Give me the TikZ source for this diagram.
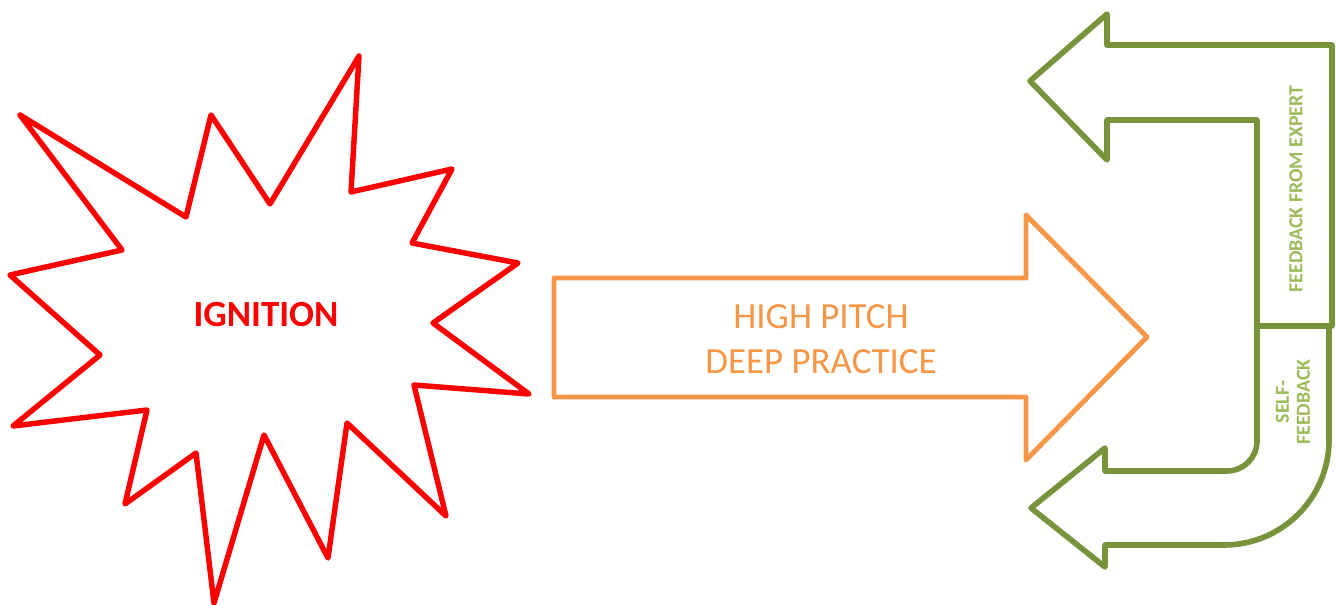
\documentclass[tikz,border=0pt]{standalone}
\usepackage{fontspec}
\setmainfont{Carlito}
\definecolor{burst}{HTML}{FF0000}
\definecolor{practice}{HTML}{F79646}
\definecolor{loopline}{HTML}{77933C}
\definecolor{looptext}{HTML}{9BBB59}
\tikzset{
  outline/.style={line width=2.8pt, line join=round},
  bigtext/.style={font=\fontsize{21}{25.5}\selectfont, align=center, inner sep=0pt},
  sidetext/.style={font=\bfseries\fontsize{11.3}{12}\selectfont, text=looptext, align=center, inner sep=0pt, rotate=90}
}
\begin{document}
\begin{tikzpicture}[x=0.02cm, y=-0.02cm]
\useasboundingbox (0,0) rectangle (1336,605);

% explosion burst
\draw[outline, burst, line width=3.1pt]
  (20,115) -- (186,217) -- (211,115) -- (270,204) -- (359,56) -- (351,192)
  -- (452,169) -- (412,243) -- (518,263) -- (433,323) -- (529,394)
  -- (414,385) -- (446,516) -- (347,423) -- (328,558) -- (264,435)
  -- (214,603) -- (196,453) -- (125,504) -- (147,410) -- (13,426)
  -- (100,355) -- (10,275) -- (122,250) -- cycle;
\node[bigtext, text=burst, font=\bfseries\fontsize{21}{25.5}\selectfont] (ignition) at (266,315) {IGNITION};

% practice arrow
\draw[outline, practice]
  (554,278) -- (1026,278) -- (1026,215) -- (1147,337) -- (1026,460)
  -- (1026,397) -- (554,397) -- cycle;
\node[bigtext, text=practice] (practice) at (821,339) {HIGH PITCH\\DEEP PRACTICE};

% expert feedback arrow (upper bent arrow)
\draw[outline, loopline, line width=3.2pt]
  (1030,81) -- (1107,14) -- (1107,45) -- (1332,45) -- (1332,326)
  -- (1257,326) -- (1257,120) -- (1107,120) -- (1107,160) -- cycle;
\node[sidetext] (expert) at (1296,189) {FEEDBACK FROM EXPERT};

% self-feedback arrow (lower curved arrow)
\draw[outline, loopline, line width=3.2pt]
  (1257,326) -- (1329,326) -- (1329,440)
  arc[start angle=0, end angle=90, radius=105] -- (1105,545)
  -- (1105,567) -- (1031,508) -- (1105,448) -- (1105,471) -- (1227,471)
  arc[start angle=90, end angle=0, radius=30] -- cycle;
\node[sidetext] (self) at (1293,402) {SELF-\\FEEDBACK};
\end{tikzpicture}
\end{document}
